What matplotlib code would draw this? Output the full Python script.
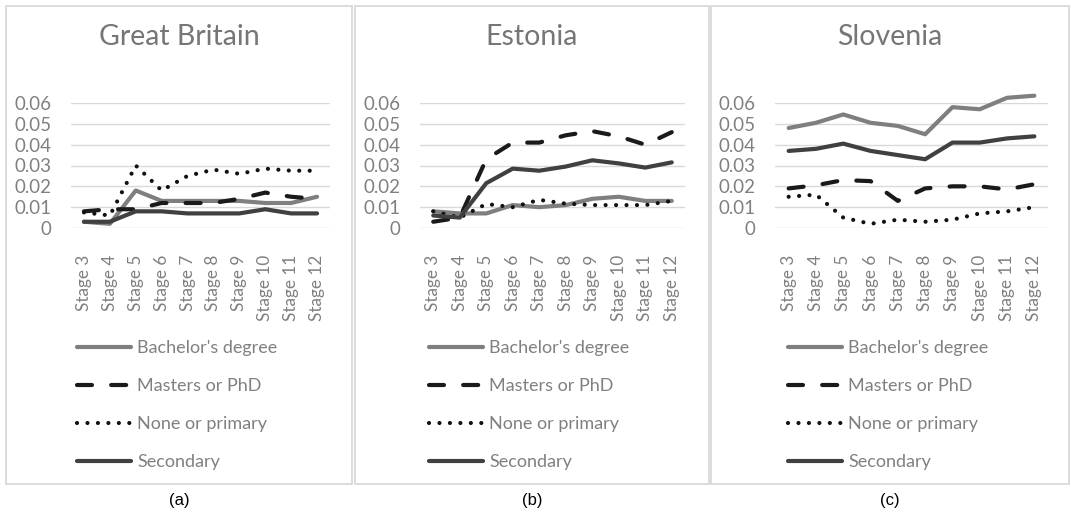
import matplotlib
matplotlib.use("Agg")
import matplotlib.pyplot as plt
import matplotlib.patches as patches
from matplotlib.ticker import FuncFormatter, MultipleLocator

plt.rcParams['font.family'] = ['Lato', 'DejaVu Sans']

stages = ["Stage 3", "Stage 4", "Stage 5", "Stage 6", "Stage 7",
          "Stage 8", "Stage 9", "Stage 10", "Stage 11", "Stage 12"]
series_names = ["Bachelor's degree", "Masters or PhD", "None or primary", "Secondary"]
countries = ["Great Britain", "Estonia", "Slovenia"]
captions = ["(a)", "(b)", "(c)"]

gb_bachelor = [0.003, 0.002, 0.018, 0.013, 0.013, 0.013, 0.013, 0.012, 0.012, 0.015]
gb_masters = [0.008, 0.009, 0.009, 0.012, 0.012, 0.012, 0.014, 0.017, 0.015, 0.014]
gb_none = [0.0075, 0.006, 0.030, 0.018, 0.025, 0.028, 0.026, 0.0285, 0.0275, 0.0275]
gb_secondary = [0.003, 0.003, 0.008, 0.008, 0.007, 0.007, 0.007, 0.009, 0.007, 0.007]

ee_bachelor = [0.008, 0.007, 0.007, 0.011, 0.010, 0.011, 0.014, 0.015, 0.013, 0.013]
ee_masters = [0.003, 0.005, 0.033, 0.041, 0.041, 0.0445, 0.0465, 0.044, 0.040, 0.046]
ee_none = [0.008, 0.005, 0.0115, 0.010, 0.0135, 0.0117, 0.011, 0.011, 0.011, 0.013]
ee_secondary = [0.006, 0.005, 0.0215, 0.0285, 0.0275, 0.0295, 0.0325, 0.031, 0.029, 0.0315]

si_bachelor = [0.048, 0.0505, 0.0545, 0.0505, 0.049, 0.045, 0.058, 0.057, 0.0625, 0.0635]
si_masters = [0.019, 0.0205, 0.023, 0.0225, 0.013, 0.019, 0.020, 0.020, 0.0185, 0.021]
si_none = [0.015, 0.016, 0.005, 0.002, 0.004, 0.003, 0.004, 0.007, 0.008, 0.010]
si_secondary = [0.037, 0.038, 0.0405, 0.037, 0.035, 0.033, 0.041, 0.041, 0.043, 0.044]

data = [
    [gb_bachelor, gb_masters, gb_none, gb_secondary],
    [ee_bachelor, ee_masters, ee_none, ee_secondary],
    [si_bachelor, si_masters, si_none, si_secondary],
]

# line styles: bachelor, masters, none, secondary
styles = [
    dict(color='#7f7f7f', lw=3.0, ls='-', solid_capstyle='round'),
    dict(color='#1a1a1a', lw=3.0, ls=(0, (3.6, 4.6)), dash_capstyle='round'),
    dict(color='#111111', lw=3.0, ls=(0, (0.01, 2.5)), dash_capstyle='round'),
    dict(color='#404040', lw=3.0, ls='-', solid_capstyle='round'),
]

W, H = 1071, 519
fig = plt.figure(figsize=(W / 100, H / 100), dpi=100)

# pixel layout of each panel: border left, border right, plot left, plot right, legend left
panels = [
    (6, 352, 71, 330, 77),
    (355, 709, 420, 685, 429),
    (711, 1069, 775, 1048, 788),
]
plot_top, plot_bottom = 103, 228
grey_text = '#808080'

for i, (bl, br, pl, pr, lg) in enumerate(panels):
    # panel border
    fig.patches.append(patches.Rectangle((bl / W, 1 - 484 / H), (br - bl) / W, (484 - 6) / H,
                                         transform=fig.transFigure, fill=False,
                                         edgecolor='#d9d9d9', lw=1.3))
    ax = fig.add_axes([pl / W, 1 - plot_bottom / H, (pr - pl) / W, (plot_bottom - plot_top) / H])
    x = list(range(len(stages)))
    for name, vals, st in zip(series_names, data[i], styles):
        ax.plot(x, vals, label=name, clip_on=False, **st)
    ax.set_xlim(-0.5, len(stages) - 0.5)
    ax.set_ylim(0, 0.06)
    ax.yaxis.set_major_locator(MultipleLocator(0.01))
    ax.yaxis.set_major_formatter(FuncFormatter(lambda v, p: '0' if abs(v) < 1e-9 else f'{v:.2f}'))
    ax.grid(axis='y', color='#d9d9d9', lw=1.0)
    ax.set_axisbelow(True)
    for s in ax.spines.values():
        s.set_visible(False)
    ax.set_xticks(x)
    ax.set_xticklabels(stages, rotation=90, fontsize=12.3, color=grey_text)
    ax.tick_params(axis='both', length=0)
    ax.tick_params(axis='x', pad=19)
    ax.tick_params(axis='y', pad=14, labelsize=13.5, labelcolor=grey_text)

    fig.text((bl + br) / 2 / W, 1 - 37 / H, countries[i], ha='center', va='center',
             fontsize=20.5, color='#767676')
    fig.text((bl + br) / 2 / W, 1 - 501 / H, captions[i], ha='center', va='center',
             fontsize=12, color='black', family=['Liberation Sans', 'DejaVu Sans'])

    leg = fig.legend(*ax.get_legend_handles_labels(), loc='upper left',
                     bbox_to_anchor=(lg / W, 1 - 340 / H), bbox_transform=fig.transFigure,
                     frameon=False, fontsize=13, handlelength=3.0, handletextpad=0.35,
                     labelspacing=1.22, borderpad=0, borderaxespad=0)
    for t in leg.get_texts():
        t.set_color(grey_text)

fig.savefig('out.png', dpi=100)
